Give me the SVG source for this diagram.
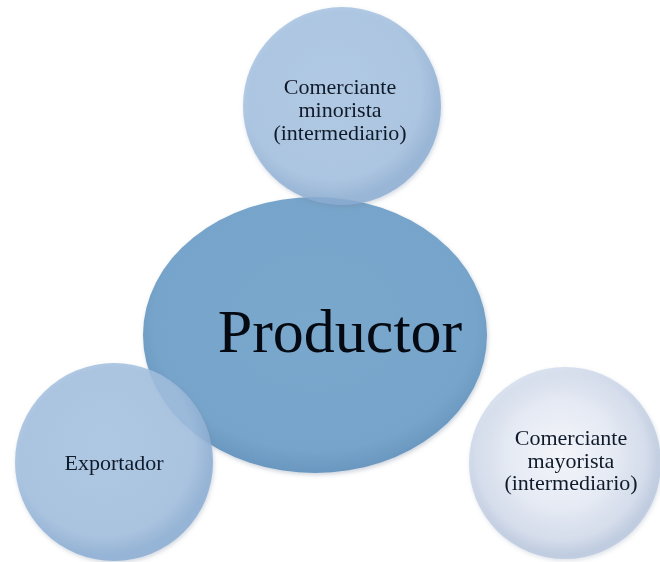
<svg xmlns="http://www.w3.org/2000/svg" width="660" height="562" viewBox="0 0 660 562">
  <defs>
    <radialGradient id="gEllipse" cx="50%" cy="45%" r="55%">
      <stop offset="0%" stop-color="#7aa8cd"/>
      <stop offset="85%" stop-color="#77a4ca"/>
      <stop offset="100%" stop-color="#6a97bf"/>
    </radialGradient>
    <radialGradient id="gBlue" cx="45%" cy="42%" r="55%">
      <stop offset="0%" stop-color="#a8c4e2"/>
      <stop offset="82%" stop-color="#a2bfdf"/>
      <stop offset="100%" stop-color="#8cadd3"/>
    </radialGradient>
    <radialGradient id="gPale" cx="48%" cy="46%" r="52%">
      <stop offset="0%" stop-color="#f4f6fb" stop-opacity="0.95"/>
      <stop offset="55%" stop-color="#e6ebf5" stop-opacity="0.9"/>
      <stop offset="85%" stop-color="#d0daec" stop-opacity="0.7"/>
      <stop offset="100%" stop-color="#a9bbd8" stop-opacity="0.6"/>
    </radialGradient>
    <filter id="soft" x="-10%" y="-10%" width="120%" height="120%">
      <feGaussianBlur in="SourceAlpha" stdDeviation="2"/>
      <feOffset dx="1" dy="2" result="b"/>
      <feFlood flood-color="#6b7f99" flood-opacity="0.35"/>
      <feComposite in2="b" operator="in"/>
      <feMerge><feMergeNode/><feMergeNode in="SourceGraphic"/></feMerge>
    </filter>
    <style>
      .lbl { font-family: "Liberation Serif", "Times New Roman", serif; fill: #111a2a; text-anchor: middle; }
      .small { font-size: 22px; }
      .big { font-size: 62px; fill: #050a12; }
    </style>
  </defs>
  <rect width="660" height="562" fill="#ffffff"/>

  <!-- central node -->
  <g id="productor" filter="url(#soft)">
    <ellipse cx="315" cy="335" rx="172" ry="138" fill="url(#gEllipse)"/>
  </g>

  <!-- surrounding nodes, slightly translucent over the centre -->
  <g id="minorista" filter="url(#soft)">
    <circle cx="342" cy="106" r="99" fill="url(#gBlue)" opacity="0.82"/>
    <text class="lbl small" x="340" y="94">Comerciante</text>
    <text class="lbl small" x="340" y="117">minorista</text>
    <text class="lbl small" x="340" y="140">(intermediario)</text>
  </g>

  <g id="exportador" filter="url(#soft)">
    <circle cx="114" cy="462" r="99" fill="url(#gBlue)" opacity="0.85"/>
    <text class="lbl small" x="114" y="470">Exportador</text>
  </g>

  <g id="mayorista" filter="url(#soft)">
    <circle cx="565" cy="463" r="96" fill="url(#gPale)"/>
    <text class="lbl small" x="571" y="445">Comerciante</text>
    <text class="lbl small" x="571" y="467.5">mayorista</text>
    <text class="lbl small" x="571" y="490">(intermediario)</text>
  </g>

  <g id="centre-label">
    <text class="lbl big" x="340" y="352">Productor</text>
  </g>

  <g id="connectors"/>
</svg>
